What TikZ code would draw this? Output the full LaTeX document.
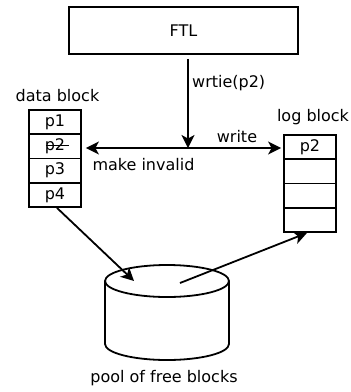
\documentclass[tikz,border=0pt]{standalone}
\usepackage{fontspec}
\setmainfont{DejaVu Sans}
\usetikzlibrary{arrows.meta}
\begin{document}
\begin{tikzpicture}[x=1pt,y=-1pt,
  every node/.style={font=\fontsize{16}{19}\selectfont, inner sep=0pt},
  frame/.style={draw, line width=1.8pt},
  cell/.style={frame, minimum width=52pt, minimum height=24.25pt},
  conn/.style={line width=1.8pt, -{Stealth[length=13pt,width=13pt,inset=3.5pt]}},
  lbl/.style={text=black}]
\useasboundingbox (0,0) rectangle (351,392);

% FTL controller
\node[frame, minimum width=229pt, minimum height=47pt] (ftl) at (183.5,30.5) {FTL};

% data block with its four pages
\node[lbl] (dlab) at (57.5,96) {data block};
\node[cell] (d1) at (55,122.1) {p1};
\node[cell] (d2) at (55,146.4) {p2};
\node[cell] (d3) at (55,170.6) {p3};
\node[cell] (d4) at (55,194.9) {p4};
\draw[line width=1.1pt] ([xshift=-9pt,yshift=0.5pt]d2.center) -- ([xshift=14pt,yshift=0.5pt]d2.center);

% log block
\node[lbl] (llab) at (313,117) {log block};
\node[cell] (l1) at (310,147.1) {p2};
\node[cell] (l2) at (310,171.4) {};
\node[cell] (l3) at (310,195.6) {};
\node[cell] (l4) at (310,219.9) {};

% pool of free blocks (cylinder)
\coordinate (cyl) at (167,281);
\draw[line width=1.8pt] (cyl) ellipse [x radius=62pt, y radius=16pt];
\draw[line width=1.8pt] (105,281) -- (105,344)
  arc[start angle=180, end angle=360, x radius=62pt, y radius=16pt] -- (229,281);
\node[lbl] (plab) at (164,378) {pool of free blocks};
\coordinate (pin) at (134,281);
\coordinate (pout) at (180,283);

% write request and its two effects
\coordinate (j) at (188,148);
\draw[conn] (j |- ftl.south) ++(0,4) -- (j);
\node[lbl, anchor=west] (wlab) at (192,83) {wrtie(p2)};
\draw[conn] (j) -- ([xshift=4pt]j -| d2.east);
\draw[conn] (j) -- ([xshift=-2pt]j -| l1.west);
\node[lbl] (wr) at (237,137) {write};
\node[lbl] (mi) at (143.5,165) {make invalid};

% page moves to and from the free pool
\draw[conn] ([xshift=2pt]d4.south) -- (pin);
\draw[conn] (pout) -- ([xshift=-3pt]l4.south);
\end{tikzpicture}
\end{document}
